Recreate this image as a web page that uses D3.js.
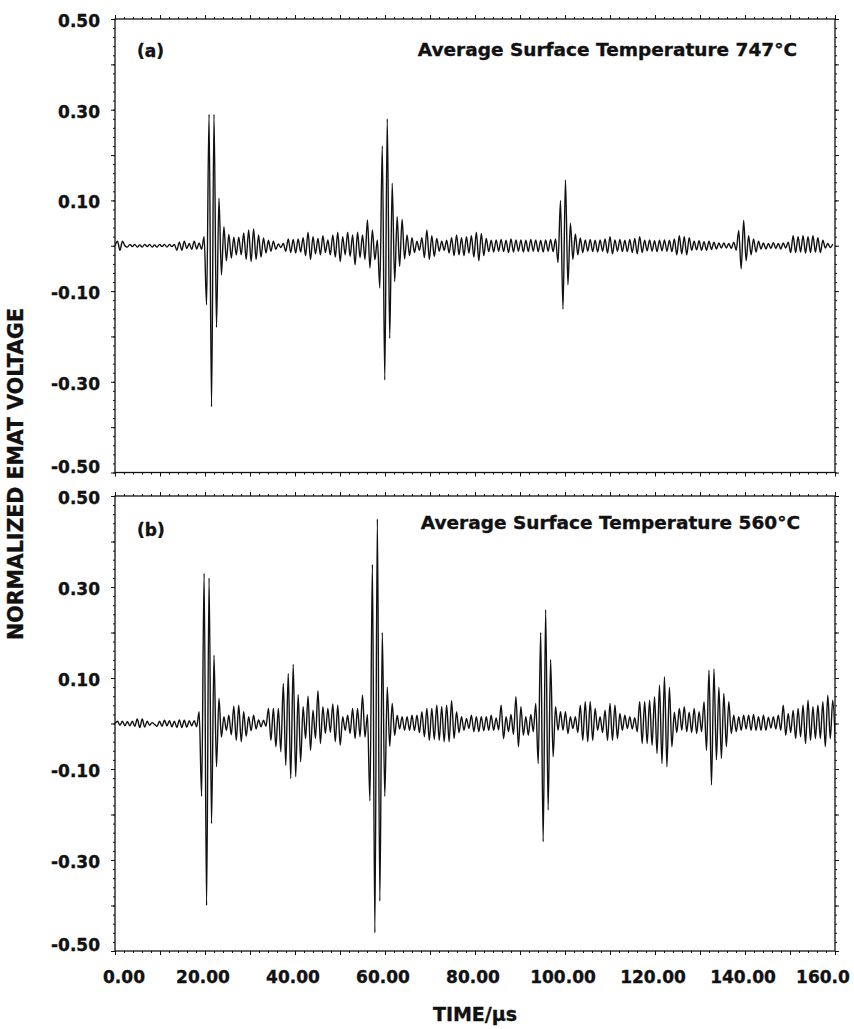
<!DOCTYPE html>
<html><head><meta charset="utf-8">
<script src="https://cdn.jsdelivr.net/npm/d3@7"></script>
<style>
body{margin:0;background:#fff}
svg{display:block}
text{font-family:"DejaVu Sans",sans-serif;font-weight:bold;fill:#111;stroke:#111;stroke-width:0.35px}
</style>
</head><body>
<svg id="chart" width="854" height="1029"></svg>
<script>
// time between successive turning points of the traces (µs)
const TIME_STEP = 0.55;
const xTickValues = [0, 20, 40, 60, 80, 100, 120, 140, 160];
const xTickLabels = ["0.00", "20.00", "40.00", "60.00", "80.00", "100.00", "120.00", "140.00", "160.0"];
const yTickValues = [0.5, 0.3, 0.1, -0.1, -0.3, -0.5];
const yTickLabels = ["0.50", "0.30", "0.10", "-0.10", "-0.30", "-0.50"];
const panelTags = ["(a)", "(b)"];
const panelTitles = ["Average Surface Temperature 747°C", "Average Surface Temperature 560°C"];
const xTitle = "TIME/µs";
const yTitle = "NORMALIZED EMAT VOLTAGE";

// normalized voltage at successive turning points, in hundredths
const volts747 = [
0,1,-1,1,0,-0.3,0.3,-0.2,0.3,-0.3,0.2,-0.3,0.3,-0.2,0.3,-0.3,0.2,-0.3,0.3,-0.2,
0.3,-0.3,0.3,-0.2,0.3,-1,0.8,-1,1,-0.6,0.5,-0.8,1,-0.7,0.6,-0.8,2,-13,29,-35.5,
29,-18,10.5,-6.4,4.2,-3.3,2.5,-2.7,1.9,-2,1.9,-2,2.8,-3,3.5,-3.5,3.7,-3,2.4,-2.5,
1.7,-1.6,1.2,-1.2,1,-0.8,0.4,-0.4,0.5,-1.2,1.5,-1.5,1.4,-1.6,1.5,-1.4,1.8,-2.2,3,-3,
2,-1.8,1.6,-2,2.2,-1.5,1.3,-2,2.4,-2.5,3,-3.5,2,-2,3,-2.4,2.4,-4.2,3,-2.6,
2.4,-3,5.7,-4.9,3.5,-3.1,1.3,-9.3,22,-29.6,28,-20.4,13.8,-7.9,6.4,-4.6,5.8,-2.9,2.4,-2.2,
1.8,-1.5,1,-1,1.8,-2.6,3.5,-3,2.2,-2.4,1.6,-1.2,1,-1,1.2,-1.6,1.8,-2.2,2.4,-2,
1.8,-2.2,2,-1.6,2.2,-2.5,3,-3.3,2.7,-2.2,1.6,-1.3,1.2,-1.4,1.3,-1.2,1.4,-1.3,1.2,-1.5,
1.5,-1.4,1.3,-1.2,1.3,-1.4,1.2,-1.3,1.4,-1.2,1.3,-1.3,1.2,-1.4,1.3,-1.2,1.4,-1.3,1.5,-3.7,
10,-14,14.5,-8.6,5,-3,2.6,-2,1.7,-1.5,1.3,-1.2,1.4,-1.3,1.2,-1.4,1.3,-1.2,1.5,-1.6,
2,-1.8,1.3,-1.2,1.4,-1.3,1.2,-1.3,1.4,-1.5,1.6,-1.8,2,-1.5,1.2,-1.1,1.3,-1.2,1.1,-1.3,
1.2,-1.1,1.3,-1.2,1.2,-1.3,1.5,-2,2.2,-1.8,2,-2,1.8,-1,1,-0.9,1.1,-1,0.9,-1,
1,-0.8,0.8,-0.7,0.6,-0.5,0.6,-0.5,0.5,-0.6,0.8,-1,3.4,-5.1,5.6,-3.3,2.2,-2,1.5,-1.4,
1,-0.7,0.6,-0.7,0.5,-0.6,0.7,-0.6,0.5,-0.7,0.6,-0.5,0.8,-1.5,2.2,-1.5,2,-1.4,2.2,-1.6,
2,-1.5,2.2,-1.4,1.8,-1.5,1.2,-0.5,0.5,-0.4,0.4
];
const volts560 = [
0,0.5,-0.4,0.5,-0.5,0.4,-0.5,0.5,-0.6,1,-0.9,1,-0.8,0.5,-0.4,0.2,-0.2,-0.6,0.5,-0.6,
0.7,-0.5,0.6,-0.7,0.5,-0.9,0.8,-0.9,0.7,-0.8,0.6,-0.5,0.6,-0.7,2.6,-16,33,-40,32,-22,
15,-9.5,5.5,-3,1.5,-1.5,1.8,-2.5,3.8,-3.7,4,-4,2.6,-2.8,1.5,-1.6,1.8,-1.2,0.8,-0.7,
0.7,-0.6,3.3,-3.7,3.3,-5.1,3.3,-6.2,8.8,-9.2,11,-12.1,13,-11.7,6.4,-8.4,3.7,-3.3,6,-5.9,
2.9,-3.3,7.2,-4.4,3.7,-2.2,3.3,-2,4.3,-4,4,-4.8,1.5,-1.5,1.8,-2.2,3.3,-3.3,3.3,-2.9,
6.2,-3,2,-17,35,-46,45,-39,20,-16,8,-5,4.4,-2.6,1.8,-1.2,1.5,-1.5,1.5,-1.5,
1.8,-1.6,1.8,-2,2.6,-2.9,3.3,-3.7,3.3,-3.5,4,-3.7,3.7,-4,4,-4,5,-3.3,2.6,-2,
1.5,-1.5,1.1,-1.1,1.8,-1.8,1.5,-1.8,1.5,-1.6,1.5,-1.5,1.8,-1.5,1.2,-1.4,4,-3.3,1.5,-1.8,
2,-2.4,5.9,-5.1,3.7,-2.6,1.5,-2.6,2,-1.8,4.4,-8.8,20,-26,25,-19,14,-7.3,3.7,-1.5,
2.6,-1.5,2.6,-2.2,1.5,-1.1,1.5,-2,4,-3.7,4.8,-4,4.8,-3.7,3.3,-1.5,1.5,-2,2.9,-3.7,
4.4,-3.7,4,-3.3,2.2,-1.5,1.8,-1.1,1.5,-1.2,1.3,-1.8,4.8,-4.4,4.8,-4.4,5.1,-4.8,5.9,-6.6,
8.4,-8.8,10.3,-9.5,8,-5.1,2.5,-2,3.3,-1.5,3.7,-1.8,2.5,-2,3.3,-2.2,2.6,-1.8,4.8,-5.9,
11.7,-13.5,12,-8,8,-7.7,6.6,-5.1,4.8,-2.2,1.8,-1.8,1.5,-1.5,1.8,-1.2,1.8,-1.5,2,-1.5,
1.5,-1.5,1.8,-1.5,1.4,-1,1.5,-1.2,1.8,-1.5,4,-2.6,2.2,-2,2.9,-3.3,3.3,-2.9,4,-4.4,
5.1,-3.7,3.7,-3.3,4,-3.3,4.8,-5.1,6.2,-3.3,5.1,-4
];

const svg = d3.select("#chart");
const INK = "#111";
const left = 115, right = 835;
const panels = [
  {top: 19, bottom: 472.5, volts: volts747, tag: panelTags[0], title: panelTitles[0], tagY: 57, titleX: 797, titleY: 56},
  {top: 496, bottom: 951, volts: volts560, tag: panelTags[1], title: panelTitles[1], tagY: 536, titleX: 800, titleY: 529}
];
const x = d3.scaleLinear().domain([0, 160]).range([left, right]);

panels.forEach((p, k) => {
  const y = d3.scaleLinear().domain([-0.5, 0.5]).range([p.bottom, p.top]);
  const g = svg.append("g");

  g.append("clipPath").attr("id", "clip" + k)
    .append("rect").attr("x", left).attr("y", p.top).attr("width", right - left).attr("height", p.bottom - p.top);

  // trace
  const pts = p.volts.map((v, i) => ({t: i * TIME_STEP, v: v / 100}));
  const line = d3.line().x(d => x(d.t)).y(d => y(d.v)).curve(d3.curveMonotoneX);
  g.append("path").datum(pts).attr("clip-path", `url(#clip${k})`)
    .attr("d", line).attr("fill", "none").attr("stroke", INK).attr("stroke-width", 1.4).attr("stroke-linejoin", "round");

  // ticks
  const addAxis = (axis, tx, ty) => {
    const a = g.append("g").attr("transform", `translate(${tx},${ty})`).call(axis);
    a.select(".domain").remove();
    a.selectAll("line").attr("stroke", INK).attr("stroke-width", 1);
    a.selectAll("text").remove();
  };
  const xMajor = d3.range(0, 161, 10), xMinor = d3.range(0, 161, 2);
  const yMajor = d3.range(-5, 6).map(d => d / 10), yMinor = d3.range(-25, 26).map(d => d / 50);
  addAxis(d3.axisTop(x).tickValues(xMajor).tickSize(4), 0, p.top);
  addAxis(d3.axisTop(x).tickValues(xMinor).tickSize(2), 0, p.top);
  addAxis(d3.axisBottom(x).tickValues(xMajor).tickSize(4), 0, p.bottom);
  addAxis(d3.axisBottom(x).tickValues(xMinor).tickSize(2), 0, p.bottom);
  addAxis(d3.axisLeft(y).tickValues(yMajor).tickSize(4), left, 0);
  addAxis(d3.axisLeft(y).tickValues(yMinor).tickSize(2), left, 0);
  addAxis(d3.axisRight(y).tickValues(yMajor).tickSize(4), right, 0);
  addAxis(d3.axisRight(y).tickValues(yMinor).tickSize(2), right, 0);

  // frame
  g.append("rect").attr("x", left).attr("y", p.top).attr("width", right - left).attr("height", p.bottom - p.top)
    .attr("fill", "none").attr("stroke", INK).attr("stroke-width", 1.3);

  // y tick labels
  g.selectAll("text.ylab").data(yTickValues).join("text").attr("class", "ylab")
    .attr("x", 100).attr("y", d => y(d) + (d === -0.5 ? 0 : 8))
    .attr("text-anchor", "end").attr("font-size", 17)
    .text((d, i) => yTickLabels[i]);

  g.append("text").attr("x", 137).attr("y", p.tagY).attr("font-size", 17).text(p.tag);
  g.append("text").attr("x", p.titleX).attr("y", p.titleY).attr("text-anchor", "end").attr("font-size", 18.5).text(p.title);
});

// x tick labels (bottom panel only)
svg.selectAll("text.xlab").data(xTickValues).join("text").attr("class", "xlab")
  .attr("x", d => x(d) + (d === 0 ? 9 : d === 160 ? -12 : -2)).attr("y", 983)
  .attr("text-anchor", "middle").attr("font-size", 17)
  .text((d, i) => xTickLabels[i]);

svg.append("text").attr("x", 475).attr("y", 1021).attr("text-anchor", "middle").attr("font-size", 19).text(xTitle);
svg.append("text").attr("transform", "translate(23,474) rotate(-90)").attr("text-anchor", "middle").attr("font-size", 20.5).text(yTitle);
</script>
</body></html>
